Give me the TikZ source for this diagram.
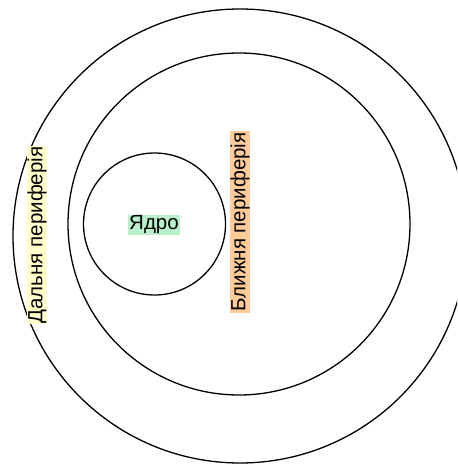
\documentclass[tikz,border=0pt]{standalone}
\usepackage{fontspec}
\setmainfont{Liberation Sans}
\tikzset{
  ring/.style={draw=black, line width=1.3pt},
  tag/.style={inner xsep=1pt, inner ysep=0.5pt, font=\fontsize{20.5}{22}\selectfont, text=black},
}
\definecolor{coremint}{HTML}{B9F0CA}
\definecolor{nearpeach}{HTML}{FFCC99}
\definecolor{farcream}{HTML}{FFFFCC}
\begin{document}
\begin{tikzpicture}[x=1pt, y=-1pt]
  \useasboundingbox (0,0) rectangle (457,465);
  \clip (0,0) rectangle (457,465);
  % concentric zones
  \node[ring, circle, minimum size=454pt, inner sep=0pt] (far) at (240,236) {};
  \node[ring, circle, minimum size=342pt, inner sep=0pt] (near) at (239,224) {};
  \node[ring, circle, minimum size=142pt, inner sep=0pt] (core) at (154.5,224) {};
  % zone labels
  \node[tag, fill=coremint] (corelabel) at (154,225) {Ядро};
  \node[tag, fill=nearpeach, rotate=90] (nearlabel) at (240,222) {Ближня периферія};
  \node[tag, fill=farcream, rotate=90] (farlabel) at (37,235) {Дальня периферія};
\end{tikzpicture}
\end{document}
